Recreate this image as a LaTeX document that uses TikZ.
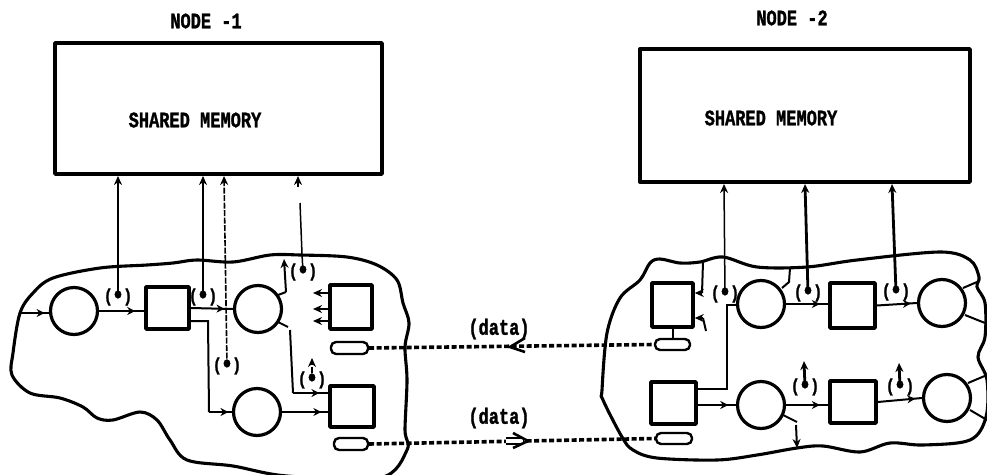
\documentclass[tikz,border=0pt]{standalone}
\usepackage{fontspec}
\setmainfont{Liberation Mono}[BoldFeatures={FakeBold=1.6}]
\usetikzlibrary{arrows.meta,decorations.markings,calc}
\newcommand{\tallbold}[1]{\scalebox{1}[1.3]{\bfseries #1}}
\newcommand{\tokenmark}{\scalebox{1}[1.2]{\bfseries(\kern-1.5pt\raisebox{-1.5pt}{\scalebox{1.5}{•}}\kern-1.5pt)}}
\tikzset{
  memory/.style={draw,line width=3.4pt,rectangle,inner sep=0pt,line join=round},
  title/.style={font=\fontsize{17}{17}\selectfont,inner sep=0pt},
  datalabel/.style={font=\fontsize{17}{17}\selectfont,inner sep=0pt},
  token/.style={font=\fontsize{15}{15}\selectfont,inner sep=0pt},
  place/.style={draw,circle,line width=3.2pt,minimum size=47pt,inner sep=0pt},
  trans/.style={draw,rectangle,line width=3.5pt,inner sep=0pt,line join=round},
  pill/.style={draw,line width=2.4pt,rounded corners=5pt,inner sep=0pt},
  blob/.style={line width=3.1pt,line join=round},
  conn/.style={line width=2pt},
  thick conn/.style={line width=2.8pt},
  thin conn/.style={line width=1.5pt},
  dotted conn/.style={line width=1.6pt,dash pattern=on 6pt off 1.5pt},
  head/.style={-{Stealth[length=9pt,width=8pt]}},
  headat/.style={postaction={decorate,decoration={markings,mark=at position #1 with {\arrow{Stealth[length=8pt,width=8pt]}}}}},
  databus/.style={line width=3.6pt,dash pattern=on 5pt off 2.5pt},
  chevron/.style={line width=2.6pt,line join=miter},
  doublebody/.style={line width=1.8pt,double,double distance=3.5pt}
}
\begin{document}
\begin{tikzpicture}[x=1pt,y=-1pt]
\path[use as bounding box] (0,0) rectangle (987,474);
\fill[white] (0,0) rectangle (987,474);

% --- blobs
\begin{scope}
\clip (0,0) rectangle (987,474);
\draw[blob] plot[smooth cycle,tension=.55] coordinates {
 (20,313) (33,293) (53,278) (100,268) (147,265) (173,263) (197,260) (233,262)
 (270,255) (300,255) (347,257) (377,265) (397,280) (403,303) (409,323) (405,347)
 (407,380) (405,430) (407,450) (380,478) (287,476) (233,466) (187,460) (170,440)
 (157,420) (140,412) (113,420) (97,418) (83,407) (60,398) (30,393) (12,375) (13,353)};
\draw[blob] plot[smooth cycle,tension=.55] coordinates {
 (640,280) (650,263) (660,259) (680,263) (700,262) (723,257) (757,267) (807,267)
 (857,260) (940,252) (970,260) (979,277) (977,287) (985,303) (985,337) (978,357)
 (987,380) (986,417) (970,440) (923,445) (890,443) (860,452) (823,446) (797,448)
 (757,455) (717,460) (657,458) (633,450) (622,437) (603,400) (602,390) (607,333) (620,298)};
\end{scope}

% --- memories and titles
\node[memory,minimum width=327pt,minimum height=131pt] (mem1) at (218.5,108.5) {};
\node[memory,minimum width=330pt,minimum height=133pt] (mem2) at (805,115.5) {};
\node[title] (t1) at (206,21) {\tallbold{NODE -1}};
\node[title] (t2) at (792,18) {\tallbold{NODE -2}};
\node[title] (s1) at (195,120) {\tallbold{SHARED MEMORY}};
\node[title] (s2) at (771,118) {\tallbold{SHARED MEMORY}};

% --- places and transitions, node 1
\node[place] (a1) at (74,311) {};
\node[trans,minimum width=43pt,minimum height=42pt] (b1) at (167.5,308) {};
\node[place] (a2) at (258,309) {};
\node[trans,minimum width=42pt,minimum height=44pt] (b2) at (351,307) {};
\node[place] (a3) at (257,412) {};
\node[trans,minimum width=44pt,minimum height=41pt] (b3) at (352,406.5) {};
\node[pill,minimum width=37pt,minimum height=12pt] (p1) at (349.5,348) {};
\node[pill,minimum width=34pt,minimum height=12pt] (p2) at (351,444) {};

% --- places and transitions, node 2
\node[trans,minimum width=41pt,minimum height=44pt] (c1) at (672.5,305) {};
\node[place] (d1) at (761,304) {};
\node[trans,minimum width=45pt,minimum height=45pt] (c2) at (852.5,305.5) {};
\node[place] (d2) at (942,303) {};
\node[trans,minimum width=45pt,minimum height=42pt] (c3) at (673.5,403) {};
\node[place] (d3) at (761,405) {};
\node[trans,minimum width=46pt,minimum height=42pt] (c4) at (853,402) {};
\node[place] (d4) at (947,398) {};
\node[pill,minimum width=35pt,minimum height=11pt] (q1) at (672.5,344.5) {};
\node[pill,minimum width=36pt,minimum height=11pt] (q2) at (674,438.5) {};

% --- tokens
\node[token] (k1) at (118,297) {\tokenmark};
\node[token] (k2) at (203,297) {\tokenmark};
\node[token] (k3) at (227,366) {\tokenmark};
\node[token] (k4) at (303,272) {\tokenmark};
\node[token] (k5) at (312,380) {\tokenmark};
\node[token] (k6) at (725,294) {\tokenmark};
\node[token] (k7) at (808,293) {\tokenmark};
\node[token] (k8) at (896,292) {\tokenmark};
\node[token] (k9) at (805,387) {\tokenmark};
\node[token] (k10) at (900,387) {\tokenmark};

% --- free ends
\coordinate (e1) at (20,313);
\coordinate (e2) at (208,321);
\coordinate (e3) at (209,412);
\coordinate (s2a) at (278,295);
\coordinate (s2b) at (286,292);
\coordinate (s2c) at (284,259);
\coordinate (s3a) at (278,322);
\coordinate (s3b) at (288,327);
\coordinate (s3c) at (290,330);
\coordinate (s3d) at (293,393);
\coordinate (m1a) at (118,176);
\coordinate (m1b) at (203,176);
\coordinate (m1c) at (224,176);
\coordinate (m1d) at (298,176);
\coordinate (m1g) at (298,187);
\coordinate (m1e) at (300,203);
\coordinate (m1f) at (302,254);
\coordinate (u1) at (312,358);
\coordinate (l1a) at (330,293);
\coordinate (l1b) at (313,293);
\coordinate (l2a) at (330,309);
\coordinate (l2b) at (313,309);
\coordinate (l3a) at (330,321);
\coordinate (l3b) at (313,321);

% --- connectors, node 1
\draw[conn,headat=.85] (e1) -- (a1.west |- e1);
\draw[conn,headat=.8] (a1.east) -- (b1.west |- a1.east);
\draw[conn,headat=.8] (b1.east) -- (a2.west);
\draw[conn] (b1.east |- e2) -- (e2) -- (e3);
\draw[conn,headat=.85] (e3) -- (a3.west);
\draw[conn,headat=.85] (a3.east) -- (b3.west |- a3.east);
\draw[conn] (s2a) -- (s2b);
\draw[conn,head] (s2b) -- (s2c);
\draw[conn] (s3a) -- (s3b);
\draw[conn] (s3c) -- (s3d);
\draw[conn,headat=.75] (s3d) -- (b3.west |- s3d);
\draw[conn,head] (l1a) -- (l1b);
\draw[conn,head] (l2a) -- (l2b);
\draw[conn,head] (l3a) -- (l3b);
\draw[thin conn,head] (k1.center) -- (m1a);
\draw[thick conn,head] (k2.center) -- (m1b);
\draw[dotted conn,head] (k3.center) -- (m1c);
\draw[thin conn] (k4.center) -- (m1f) -- (m1e);
\draw[conn,head] (m1g) -- (m1d);
\draw[dotted conn,head] (k5.center) -- (u1);

% --- free ends, node 2
\coordinate (f1) at (702,293);
\coordinate (f2) at (703,262);
\coordinate (f3) at (703,318);
\coordinate (f4) at (706,331);
\coordinate (g1) at (727,389);
\coordinate (g2) at (727,305);
\coordinate (h1) at (782,288);
\coordinate (h2) at (789,282);
\coordinate (h3) at (790,268);
\coordinate (j1) at (783,415);
\coordinate (j2) at (797,422);
\coordinate (j3) at (796,425);
\coordinate (j4) at (797,448);
\coordinate (r1) at (963,288);
\coordinate (r2) at (977,282);
\coordinate (r3) at (965,315);
\coordinate (r4) at (985,323);
\coordinate (r5) at (968,383);
\coordinate (r6) at (987,375);
\coordinate (r7) at (970,410);
\coordinate (r8) at (987,420);
\coordinate (v1) at (724,184);
\coordinate (v2) at (805,184);
\coordinate (v3) at (892,184);
\coordinate (up1) at (804,361);
\coordinate (up2) at (899,363);

% --- connectors, node 2
\draw[conn] (f2) -- (f1);
\draw[conn,head] (f1) -- (c1.east |- f1);
\draw[conn] (f4) -- (f3);
\draw[conn,head] (f3) -- (c1.east |- f3);
\draw[conn] (c1.south) -- (q1.north);
\draw[conn] (c3.east |- g1) -- (g1) -- (g2) -- (d1.west |- g2);
\draw[conn,headat=.8] (c3.east |- d3.west) -- (d3.west);
\draw[conn,headat=.8] (d1.east) -- (c2.west |- d1.east);
\draw[conn,headat=.85] (c2.east) -- (d2.west);
\draw[conn,headat=.8] (d3.east) -- (c4.west |- d3.east);
\draw[conn,headat=.85] (c4.east) -- (d4.west);
\draw[conn] (h1) -- (h2) -- (h3);
\draw[conn] (j1) -- (j2);
\draw[conn,head] (j3) -- (j4);
\draw[conn] (r1) -- (r2);
\draw[conn] (r3) -- (r4);
\draw[conn] (r5) -- (r6);
\draw[conn] (r7) -- (r8);
\draw[thin conn,head] (k6.center) -- (v1);
\draw[thick conn,head] (k7.center) -- (v2);
\draw[thick conn,head] (k8.center) -- (v3);
\draw[thick conn,head] (k9.center) -- (up1);
\draw[thick conn,head] (k10.center) -- (up2);

% --- data links
\node[datalabel] (dl1) at (499,329) {\tallbold{(data)}};
\node[datalabel] (dl2) at (499,418) {\tallbold{(data)}};
\draw[databus] (p1.east) -- (q1.west);
\draw[databus] (p2.east) -- (q2.west);
\coordinate (w1) at (510,347);
\coordinate (w2) at (525,338);
\coordinate (w3) at (525,352);
\coordinate (z1) at (528,441);
\coordinate (z2) at (513,433);
\coordinate (z3) at (513,448);
\coordinate (z4) at (506,441);
\coordinate (z5) at (523,441);
\draw[doublebody] (z4) -- (z5);
\draw[chevron] (w2) -- (w1) -- (w3);
\draw[chevron] (z2) -- (z1) -- (z3);
\end{tikzpicture}
\end{document}
